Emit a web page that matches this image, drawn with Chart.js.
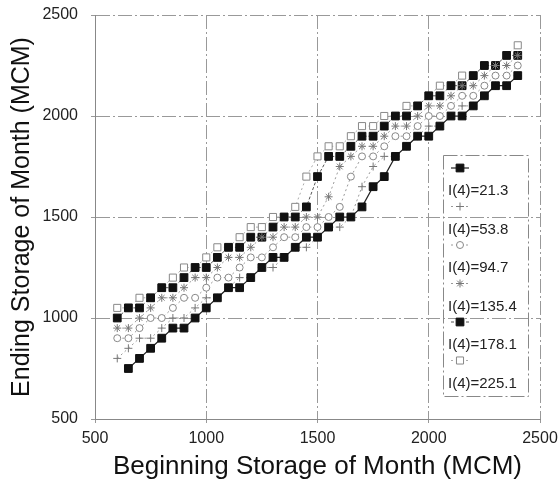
<!DOCTYPE html>
<html>
<head>
<meta charset="utf-8">
<script src="https://cdn.jsdelivr.net/npm/chart.js@4.4.1/dist/chart.umd.min.js"></script>
<style>
  html, body { margin: 0; padding: 0; background: #fff; }
  #wrap { width: 558px; height: 492px; }
</style>
</head>
<body>
<div id="wrap"><canvas id="myChart" width="558" height="492"></canvas></div>
<script>
// Beginsberging (MCM) - gedeelde x-waarden
const begStorage = [600, 650, 700, 750, 800, 850, 900, 950, 1000, 1050, 1100, 1150, 1200, 1250, 1300, 1350, 1400, 1450, 1500,
    1550, 1600, 1650, 1700, 1750, 1800, 1850, 1900, 1950, 2000, 2050, 2100, 2150, 2200, 2250, 2300, 2350, 2400];

// Eindberging per instroom I(4)
const end21 = [null, 750, 800, 850, 900, 950, 950, 1000, 1050, 1100, 1150, 1150, 1200, 1250, 1300, 1300, 1350, 1400, 1400,
    1450, 1500, 1500, 1550, 1650, 1700, 1800, 1850, 1900, 1900, 1950, 2000, 2000, 2050, 2100, 2150, 2150, 2200];
const end54 = [800, 850, 900, 900, 950, 1000, 1000, 1050, 1100, 1100, 1150, 1200, 1200, 1250, 1250, 1300, 1350, 1350, 1400,
    1450, 1450, 1500, 1650, 1750, 1800, 1800, 1850, 1900, 1950, 1950, 2000, 2050, 2050, 2100, 2150, 2150, 2200];
const end95 = [900, 900, 950, 1000, 1000, 1050, 1100, 1100, 1150, 1200, 1200, 1250, 1300, 1300, 1350, 1400, 1400, 1450, 1450,
    1500, 1550, 1700, 1800, 1800, 1850, 1900, 1900, 1950, 2000, 2000, 2050, 2100, 2100, 2150, 2200, 2200, 2250];
const end135 = [950, 950, 1000, 1050, 1100, 1100, 1150, 1200, 1200, 1250, 1300, 1300, 1350, 1400, 1400, 1450, 1450, 1500, 1500,
    1600, 1750, 1800, 1850, 1850, 1900, 1950, 1950, 2000, 2050, 2050, 2100, 2150, 2150, 2200, 2250, 2250, 2300];
const end178 = [1000, 1050, 1050, 1100, 1150, 1150, 1200, 1250, 1250, 1300, 1350, 1350, 1400, 1400, 1450, 1500, 1500, 1550, 1700,
    1800, 1800, 1850, 1900, 1900, 1950, 2000, 2000, 2050, 2100, 2100, 2150, 2150, 2200, 2250, 2250, 2300, 2300];
const end225 = [1050, 1050, 1100, 1100, 1150, 1200, 1250, 1250, 1300, 1350, 1350, 1400, 1450, 1450, 1500, 1500, 1550, 1700, 1800,
    1850, 1850, 1900, 1950, 1950, 2000, 2000, 2050, 2050, 2100, 2150, 2150, 2200, 2200, 2250, 2250, 2300, 2350];

const seriesLabels = ['I(4)=21.3', 'I(4)=53.8', 'I(4)=94.7', 'I(4)=135.4', 'I(4)=178.1', 'I(4)=225.1'];
const axisTicks = [500, 1000, 1500, 2000, 2500];

const FONT = '"Liberation Sans", Arial, Helvetica, sans-serif';

function toPoints(ys) {
    return begStorage.map((x, i) => ({ x: x, y: ys[i] }));
}

function makeSet(label, ys, style) {
    return Object.assign({
        label: label,
        data: toPoints(ys),
        showLine: true,
        spanGaps: false,
        fill: false
    }, style);
}

// Legenda-kader binnen het plotgebied (rechts)
const legendBox = {
    id: 'legendBox',
    afterDraw(chart) {
        const { ctx, chartArea } = chart;
        const left = chartArea.right - 97;
        const top = chartArea.top + 140;
        ctx.save();
        ctx.strokeStyle = '#888';
        ctx.lineWidth = 1;
        ctx.setLineDash([14, 3, 2, 3]);
        ctx.strokeRect(left + 0.5, top + 0.5, 85, 241);
        chart.data.datasets.forEach((ds, i) => {
            const y = top + 13 + i * 38.5;
            ctx.setLineDash(ds.borderDash || []);
            ctx.strokeStyle = ds.borderColor;
            ctx.lineWidth = ds.borderWidth;
            ctx.beginPath();
            ctx.moveTo(left + 8, y);
            ctx.lineTo(left + 26, y);
            ctx.stroke();
            ctx.setLineDash([]);
            ctx.fillStyle = ds.pointBackgroundColor;
            ctx.strokeStyle = ds.pointBorderColor;
            ctx.lineWidth = ds.pointBorderWidth;
            Chart.helpers.drawPoint(ctx, {
                pointStyle: ds.pointStyle,
                radius: ds.pointRadius,
                rotation: 0,
                borderWidth: ds.pointBorderWidth
            }, left + 17, y);
            ctx.fillStyle = '#222';
            ctx.font = '15px ' + FONT;
            ctx.textAlign = 'left';
            ctx.textBaseline = 'middle';
            ctx.fillText(ds.label, left + 5, y + 23);
        });
        ctx.restore();
    }
};

const ctx = document.getElementById('myChart').getContext('2d');
const storageChart = new Chart(ctx, {
    type: 'scatter',
    data: {
        datasets: [
            makeSet(seriesLabels[0], end21, {
                borderColor: '#222', borderWidth: 1.2,
                pointStyle: 'rect', pointRadius: 5.5,
                pointBackgroundColor: '#111', pointBorderColor: '#111', pointBorderWidth: 1
            }),
            makeSet(seriesLabels[1], end54, {
                borderColor: '#999', borderWidth: 1, borderDash: [2, 3],
                pointStyle: 'cross', pointRadius: 4,
                pointBackgroundColor: '#fff', pointBorderColor: '#777', pointBorderWidth: 1
            }),
            makeSet(seriesLabels[2], end95, {
                borderColor: '#999', borderWidth: 1, borderDash: [2, 3],
                pointStyle: 'circle', pointRadius: 3.5,
                pointBackgroundColor: '#fff', pointBorderColor: '#888', pointBorderWidth: 1
            }),
            makeSet(seriesLabels[3], end135, {
                borderColor: '#999', borderWidth: 1, borderDash: [2, 3],
                pointStyle: 'star', pointRadius: 4,
                pointBackgroundColor: '#fff', pointBorderColor: '#777', pointBorderWidth: 1
            }),
            makeSet(seriesLabels[4], end178, {
                borderColor: '#555', borderWidth: 1, borderDash: [3, 2],
                pointStyle: 'rect', pointRadius: 5.5,
                pointBackgroundColor: '#111', pointBorderColor: '#111', pointBorderWidth: 1
            }),
            makeSet(seriesLabels[5], end225, {
                borderColor: '#aaa', borderWidth: 1, borderDash: [2, 3],
                pointStyle: 'rect', pointRadius: 5,
                pointBackgroundColor: '#fff', pointBorderColor: '#888', pointBorderWidth: 1
            })
        ]
    },
    options: {
        responsive: false,
        animation: false,
        layout: { padding: { top: 15, right: 18, left: 0, bottom: 0 } },
        plugins: {
            legend: { display: false },
            tooltip: { enabled: false }
        },
        scales: {
            x: {
                type: 'linear',
                min: 500,
                max: 2500,
                afterBuildTicks: (scale) => { scale.ticks = axisTicks.map(v => ({ value: v })); },
                afterFit: (scale) => {
                    scale.height = 73;
                    scale.paddingLeft = 0;
                    scale.paddingRight = 0;
                },
                ticks: {
                    color: '#222', font: { family: FONT, size: 16 }, padding: 6,
                    callback: (v) => String(v)
                },
                grid: { color: '#999', lineWidth: 1, tickLength: 4 },
                border: { color: '#888', dash: [14, 3, 2, 3] },
                title: {
                    display: true,
                    text: 'Beginning Storage of Month (MCM)',
                    color: '#111',
                    font: { family: FONT, size: 26 },
                    padding: { top: 0, bottom: 10 }
                }
            },
            y: {
                type: 'linear',
                min: 500,
                max: 2500,
                afterBuildTicks: (scale) => { scale.ticks = axisTicks.map(v => ({ value: v })); },
                afterFit: (scale) => {
                    scale.width = 95;
                    scale.paddingTop = 0;
                    scale.paddingBottom = 0;
                },
                ticks: {
                    color: '#222', font: { family: FONT, size: 16 }, padding: 13,
                    callback: (v) => String(v)
                },
                grid: { color: '#999', lineWidth: 1, tickLength: 4 },
                border: { color: '#888', dash: [14, 3, 2, 3] },
                title: {
                    display: true,
                    text: 'Ending Storage of Month (MCM)',
                    color: '#111',
                    font: { family: FONT, size: 25 },
                    padding: { top: 7, bottom: 0 }
                }
            }
        }
    },
    plugins: [legendBox]
});
</script>
</body>
</html>
